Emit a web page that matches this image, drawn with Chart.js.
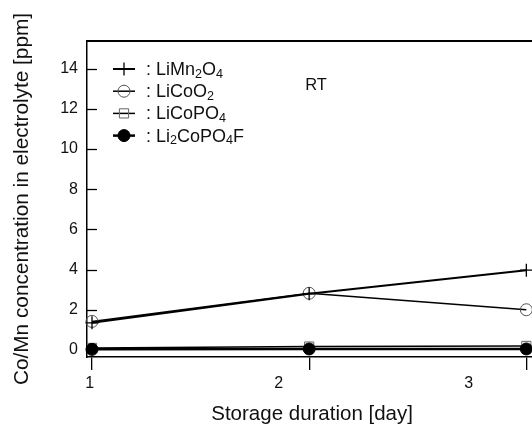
<!DOCTYPE html>
<html><head><meta charset="utf-8">
<script src="https://cdn.jsdelivr.net/npm/chart.js@4.4.0/dist/chart.umd.min.js"></script>
<style>html,body{margin:0;padding:0;overflow:hidden;background:#fff;width:532px;height:429px}canvas{display:block}</style>
</head><body>
<canvas id="c" width="545" height="429" style="width:545px;height:429px"></canvas>
<script>
// ---- data ----
const days = [1, 2, 3];
const seriesNames = ['LiMn₂O₄', 'LiCoO₂', 'LiCoPO₄', 'Li₂CoPO₄F'];
const liMn2O4   = [1.35, 2.80, 3.97];
const liCoO2    = [1.42, 2.82, 2.00];
const liCoPO4   = [0.10, 0.17, 0.20];
const li2CoPO4F = [0.03, 0.05, 0.05];
const yTickValues = [0, 2, 4, 6, 8, 10, 12, 14];
const xTickLabels = ['1', '2', '3'];
const xTickLabelAt = [0.99, 1.86, 2.735];
const annotationText = 'RT';
const xTitle = 'Storage duration [day]';
const yTitle = 'Co/Mn concentration in electrolyte [ppm]';

const FAMILY = '"Liberation Sans", Arial, Helvetica, sans-serif';
const X_MIN = 0.977, X_MAX = 3.05, Y_MIN = -0.35, Y_MAX = 15.37;

function pts(arr) { return days.map((d, i) => ({ x: d, y: arr[i] })); }

const datasets = [
  { label: seriesNames[0], data: pts(liMn2O4), borderColor: '#000', borderWidth: 2,
    pointStyle: 'cross', pointRadius: 6.5, pointBorderColor: '#000', pointBorderWidth: 1.3,
    pointBackgroundColor: '#000', order: 1 },
  { label: seriesNames[1], data: pts(liCoO2), borderColor: '#000', borderWidth: 1.5,
    pointStyle: 'circle', pointRadius: 6, pointBorderColor: '#555', pointBorderWidth: 1,
    pointBackgroundColor: 'rgba(0,0,0,0)', order: 1 },
  { label: seriesNames[2], data: pts(liCoPO4), borderColor: '#000', borderWidth: 1.5,
    pointStyle: 'rect', pointRadius: 6.5, pointBorderColor: '#666', pointBorderWidth: 1,
    pointBackgroundColor: 'rgba(0,0,0,0)', order: 1 },
  { label: seriesNames[3], data: pts(li2CoPO4F), borderColor: '#000', borderWidth: 2.5,
    pointStyle: 'circle', pointRadius: 6, pointBorderColor: '#000', pointBorderWidth: 1,
    pointBackgroundColor: '#000', order: 0 }
];
datasets.forEach(d => { d.tension = 0; d.clip = false; d.fill = false; d.xAxisID = 'x'; d.yAxisID = 'y'; });

function drawMarker(ctx, ds, x, y) {
  const r = ds.pointRadius;
  ctx.save();
  ctx.lineWidth = ds.pointBorderWidth;
  ctx.strokeStyle = ds.pointBorderColor;
  ctx.fillStyle = ds.pointBackgroundColor;
  ctx.beginPath();
  if (ds.pointStyle === 'cross') {
    ctx.moveTo(x - r, y); ctx.lineTo(x + r, y);
    ctx.moveTo(x, y - r); ctx.lineTo(x, y + r);
    ctx.stroke();
  } else if (ds.pointStyle === 'circle') {
    ctx.arc(x, y, r, 0, Math.PI * 2);
    ctx.fill(); ctx.stroke();
  } else if (ds.pointStyle === 'rect') {
    const s = r * Math.SQRT1_2;
    ctx.rect(x - s, y - s, 2 * s, 2 * s);
    ctx.fill(); ctx.stroke();
  }
  ctx.restore();
}

function drawRich(ctx, text, x, y, size) {
  const subs = '₀₁₂₃₄₅₆₇₈₉';
  let runs = [], cur = null;
  for (const ch of text) {
    const k = subs.indexOf(ch);
    const isSub = k >= 0;
    const c = isSub ? String(k) : ch;
    if (!cur || cur.sub !== isSub) { cur = { sub: isSub, t: '' }; runs.push(cur); }
    cur.t += c;
  }
  let cx = x;
  for (const r of runs) {
    const fs = r.sub ? size * 0.7 : size;
    ctx.font = fs + 'px ' + FAMILY;
    ctx.fillText(r.t, cx, r.sub ? y + size * 0.24 : y);
    cx += ctx.measureText(r.t).width;
  }
}

const overlayPlugin = {
  id: 'overlay',
  afterDraw(chart) {
    const ctx = chart.ctx;
    // inward tick marks on the y axis, at the scale's tick positions
    const ys = chart.scales.y;
    const left = chart.chartArea.left;
    ctx.save();
    ctx.strokeStyle = '#000';
    ctx.lineWidth = 1.3;
    ys.ticks.forEach(t => {
      const py = Math.round(ys.getPixelForValue(t.value)) + 0.5;
      ctx.beginPath(); ctx.moveTo(left, py); ctx.lineTo(left + 10, py); ctx.stroke();
    });
    ctx.restore();

    ctx.save();
    ctx.textBaseline = 'middle';
    ctx.textAlign = 'left';
    ctx.fillStyle = '#111';
    chart.data.datasets.forEach((ds, i) => {
      const y = 69 + i * 22.2;
      ctx.save();
      ctx.strokeStyle = ds.borderColor; ctx.lineWidth = ds.borderWidth;
      ctx.beginPath(); ctx.moveTo(113, y); ctx.lineTo(135, y); ctx.stroke();
      ctx.restore();
      drawMarker(ctx, ds, 124, y);
      ctx.fillStyle = '#111';
      drawRich(ctx, ': ' + ds.label, 146, y + 1, 18);
    });
    ctx.font = '16.5px ' + FAMILY;
    ctx.textAlign = 'center';
    ctx.fillText(annotationText, 316, 85);
    ctx.restore();
  }
};

new Chart(document.getElementById('c'), {
  type: 'line',
  data: { datasets },
  plugins: [overlayPlugin],
  options: {
    responsive: false,
    animation: false,
    events: [],
    layout: { padding: { top: 41, right: 5, left: 0, bottom: 0 } },
    plugins: { legend: { display: false }, tooltip: { enabled: false } },
    scales: {
      x: {
        type: 'linear', position: 'bottom', min: X_MIN, max: X_MAX, weight: 0,
        afterBuildTicks: s => { s.ticks = days.map(v => ({ value: v })); },
        afterFit: s => { s.height = 13; },
        grid: { drawOnChartArea: false, drawTicks: true, tickLength: 13, color: '#000', lineWidth: 1.3 },
        border: { display: true, color: '#000', width: 1.5 },
        ticks: { display: false }
      },
      xl: {
        type: 'linear', position: 'bottom', min: X_MIN, max: X_MAX, weight: 1,
        afterBuildTicks: s => { s.ticks = xTickLabelAt.map(v => ({ value: v })); },
        afterFit: s => { s.height = 59; },
        grid: { display: false, drawTicks: false },
        border: { display: false },
        ticks: { padding: 4, autoSkip: false, maxRotation: 0, color: '#111',
                 font: { family: FAMILY, size: 16 },
                 callback: (v, i) => xTickLabels[i] },
        title: { display: true, text: xTitle, color: '#111',
                 font: { family: FAMILY, size: 20.5 }, padding: { top: 0, bottom: 2 } }
      },
      xt: {
        type: 'linear', position: 'top', min: X_MIN, max: X_MAX,
        afterFit: s => { s.height = 0; },
        grid: { display: false, drawTicks: false },
        border: { display: true, color: '#000', width: 2 },
        ticks: { display: false }
      },
      y: {
        type: 'linear', position: 'left', min: Y_MIN, max: Y_MAX,
        afterBuildTicks: s => { s.ticks = yTickValues.map(v => ({ value: v })); },
        afterFit: s => { s.width = 87; },
        grid: { drawOnChartArea: false, drawTicks: false, color: '#000' },
        border: { display: true, color: '#000', width: 1.5 },
        ticks: { padding: 9, color: '#111', font: { family: FAMILY, size: 16 } },
        title: { display: true, text: yTitle, color: '#111',
                 font: { family: FAMILY, size: 20.8 }, padding: { top: 10, bottom: 0 } }
      }
    }
  }
});
</script>
</body></html>
